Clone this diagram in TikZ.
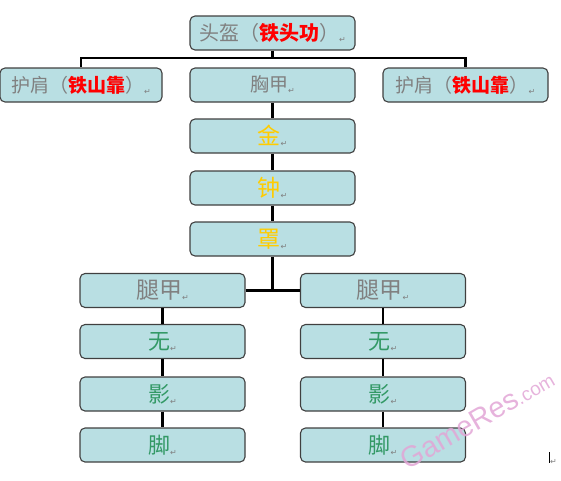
\documentclass[tikz,border=0pt]{standalone}
\usepackage{fontspec}
\setmainfont{Noto Sans CJK SC}
\newfontfamily\symfont{DejaVu Sans}
\newfontfamily\wmfont{Liberation Sans}
\definecolor{boxfill}{HTML}{B9DFE3}
\definecolor{boxline}{HTML}{404040}
\definecolor{txtgrey}{HTML}{808080}
\definecolor{txtred}{HTML}{FF0000}
\definecolor{txtgold}{HTML}{FFCC00}
\definecolor{txtgreen}{HTML}{339966}
\definecolor{wmpink}{HTML}{E2A6D6}
\newcommand{\pmark}{{\symfont\fontsize{8}{8}\selectfont\color{txtgrey}\raisebox{-2pt}{↵}}}
\newcommand{\sz}[1]{\fontsize{#1}{#1}\selectfont}
\begin{document}
\begin{tikzpicture}[x=1pt,y=-1pt,
    box/.style={draw=boxline, fill=boxfill, rounded corners=5pt, line width=1.1pt,
      minimum width=165pt, minimum height=34pt, inner sep=0pt},
    link/.style={line width=2.6pt}]
      \useasboundingbox (0,0) rectangle (561,480);

      % upper body
      \node[box] (helm) at (272.5,33) {\sz{20}\color{txtgrey}头盔（\textbf{\color{txtred}铁头功}）\pmark};
      \node[box, minimum width=162pt] (lsh) at (81,85) {\sz{19}\color{txtgrey}护肩（\textbf{\color{txtred}铁山靠}）\pmark};
      \node[box] (chest) at (272.5,85) {\sz{19}\color{txtgrey}胸甲\pmark};
      \node[box] (rsh) at (465.5,85) {\sz{19}\color{txtgrey}护肩（\textbf{\color{txtred}铁山靠}）\pmark};
      \node[box] (jin) at (272.5,136) {\sz{23}\color{txtgold}金\pmark};
      \node[box] (zhong) at (272.5,188) {\sz{23}\color{txtgold}钟\pmark};
      \node[box] (zhao) at (272.5,239) {\sz{23}\color{txtgold}罩\pmark};

      % legs
      \node[box] (lleg) at (162.5,290.5) {\sz{23}\color{txtgrey}腿甲\pmark};
      \node[box] (rleg) at (383,290.5) {\sz{23}\color{txtgrey}腿甲\pmark};
      \node[box] (lwu) at (162.5,341.5) {\sz{22}\color{txtgreen}无\pmark};
      \node[box] (rwu) at (383,341.5) {\sz{22}\color{txtgreen}无\pmark};
      \node[box] (lying) at (162.5,394) {\sz{22}\color{txtgreen}影\pmark};
      \node[box] (rying) at (383,394) {\sz{22}\color{txtgreen}影\pmark};
      \node[box] (ljiao) at (162.5,445) {\sz{22}\color{txtgreen}脚\pmark};
      \node[box] (rjiao) at (383,445) {\sz{22}\color{txtgreen}脚\pmark};

      \coordinate (topfork) at (272.5,58);
      \coordinate (legfork) at (272.5,290.5);

      \draw[link] (helm.south) -- (topfork);
      \draw[link] (topfork) -| (lsh.north);
      \draw[link] (topfork) -| (rsh.north);
      \draw[link] (chest) to (jin);
      \draw[link] (jin) to (zhong);
      \draw[link] (zhong) to (zhao);
      \draw[link] (zhao.south) -- (legfork);
      \draw[link] (lleg.east) -- (rleg.west);
      \draw[link] (lleg) to (lwu);
      \draw[link] (lwu) to (lying);
      \draw[link] (lying) to (ljiao);
      \draw[link] (rleg) to (rwu);
      \draw[link] (rwu) to (rying);
      \draw[link] (rying) to (rjiao);

      % cursor and watermark
      \node[inner sep=0pt] (cursor) at (553,458) {\sz{12}\rule{0.8pt}{11pt}\pmark};
      \node[rotate=30, inner sep=0pt, text=wmpink, opacity=0.85] (wmark) at (477,419)
        {\wmfont\sz{29}GameRes\sz{19}.com};
    \end{tikzpicture}
\end{document}
